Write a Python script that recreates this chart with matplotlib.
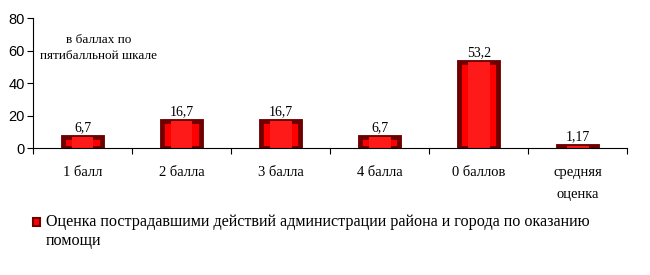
import matplotlib
matplotlib.use('Agg')
from matplotlib import pyplot as plt
from matplotlib.patches import Rectangle
import numpy as np

categories = ['1 балл', '2 балла', '3 балла', '4 балла', '0 баллов', 'средняя\nоценка']
values = [6.7, 16.7, 16.7, 6.7, 53.2, 1.17]
value_labels = ['6,7', '16,7', '16,7', '6,7', '53,2', '1,17']
y_ticks = [0, 20, 40, 60, 80]
legend_text = 'Оценка пострадавшими действий администрации района и города по оказанию\nпомощи'
note_text = 'в баллах по\nпятибалльной шкале'

serif = 'Liberation Serif'
sans = 'Liberation Sans'

fig = plt.figure(figsize=(6.5, 2.75), dpi=100)
ax = fig.add_axes([0.0508, 0.4618, 0.9142, 0.4727])

x = np.arange(len(categories))
ax.bar(x, values, width=0.39, color='#ff0000', edgecolor='#6e0000', linewidth=3.5)
ax.bar(x, values, width=0.22, color='#ff1a1a', edgecolor='none')

for xi, v, lab in zip(x, values, value_labels):
    ax.text(xi, v + 1.5, lab, ha='center', va='bottom', family=serif, fontsize=10)

ax.set_xlim(-0.5, len(categories) - 0.5)
ax.set_ylim(0, 80)
ax.set_yticks(y_ticks)
ax.set_yticklabels([str(t) for t in y_ticks], family=sans, fontsize=10.5)
ax.set_xticks(np.arange(-0.5, len(categories), 1.0))
ax.set_xticklabels([])
ax.set_xticks(x, minor=True)
ax.set_xticklabels(categories, minor=True, family=serif, fontsize=10.5, linespacing=1.9, va='top')
ax.tick_params(axis='x', which='minor', length=0, pad=13)
ax.tick_params(axis='x', which='major', length=4, direction='out')
ax.tick_params(axis='y', length=4, direction='out', pad=2)

ax.spines['top'].set_visible(False)
ax.spines['right'].set_visible(False)

ax.text(0.11, 0.88, note_text, transform=ax.transAxes, ha='center', va='top',
        family=serif, fontsize=9.5, linespacing=1.45)

fig.add_artist(Rectangle((0.051, 0.177), 0.011, 0.029, transform=fig.transFigure,
                         facecolor='#ff0000', edgecolor='#6e0000', linewidth=1.5))
fig.text(0.071, 0.222, legend_text, ha='left', va='top', family=serif, fontsize=11.6, linespacing=1.25)

fig.savefig('out.png', dpi=100)
